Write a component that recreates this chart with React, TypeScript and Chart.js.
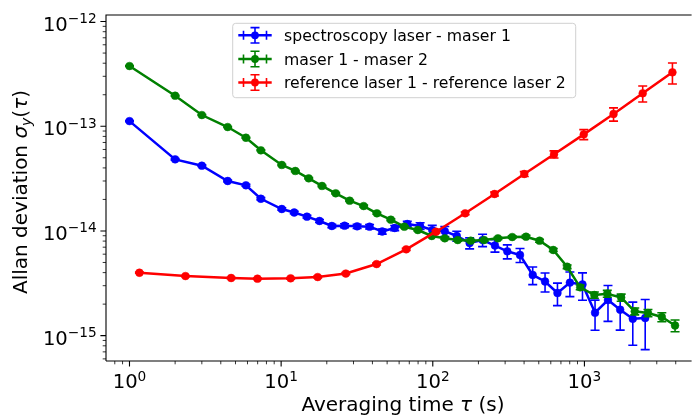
import React, { useEffect, useRef } from 'react';
import { Chart, registerables } from 'chart.js';

Chart.register(...registerables);

// ---------- data ----------
const blueTau = [1.0, 2.0, 3.0, 4.44, 5.86, 7.35, 10.1, 12.2, 14.8, 17.9, 21.6, 26.2, 31.7, 38.3, 46.4, 56.1, 67.9, 82.5, 99.2, 120, 144, 175, 213, 257, 310, 376, 456, 550, 664, 802, 971, 1175, 1430, 1721, 2084, 2516];
const blueSigma = [1.12e-13, 4.83e-14, 4.2e-14, 3.0e-14, 2.73e-14, 2.03e-14, 1.62e-14, 1.5e-14, 1.37e-14, 1.245e-14, 1.115e-14, 1.122e-14, 1.107e-14, 1.098e-14, 9.88e-15, 1.067e-14, 1.165e-14, 1.115e-14, 1.02e-14, 9.95e-15, 8.95e-15, 7.67e-15, 8.19e-15, 7.26e-15, 6.39e-15, 5.89e-15, 3.8e-15, 3.29e-15, 2.555e-15, 3.21e-15, 3.08e-15, 1.656e-15, 2.19e-15, 1.77e-15, 1.45e-15, 1.475e-15];
const blueErr = [1.5e-15, 0.8e-15, 0.8e-15, 0.6e-15, 0.6e-15, 0.5e-15, 0.4e-15, 0.4e-15, 0.4e-15, 0.4e-15, 0.4e-15, 0.5e-15, 0.5e-15, 0.55e-15, 0.55e-15, 0.6e-15, 0.7e-15, 0.81e-15, 1.11e-15, 1.085e-15, 0.98e-15, 0.92e-15, 1.1e-15, 0.98e-15, 0.98e-15, 0.9e-15, 0.73e-15, 0.68e-15, 0.62e-15, 0.85e-15, 0.9e-15, 0.53e-15, 0.82e-15, 0.64e-15, 0.64e-15, 0.74e-15];

const greenTau = [1.0, 2.0, 3.0, 4.44, 5.86, 7.35, 10.1, 12.4, 15.2, 18.6, 22.9, 28.3, 35.0, 42.8, 52.9, 64.9, 79.7, 98.4, 120, 146, 178, 218, 269, 334, 412, 506, 623, 769, 938, 1163, 1415, 1747, 2147, 2624, 3239, 3959];
const greenSigma = [3.76e-13, 1.957e-13, 1.28e-13, 9.83e-14, 7.77e-14, 5.89e-14, 4.27e-14, 3.74e-14, 3.18e-14, 2.69e-14, 2.29e-14, 1.945e-14, 1.73e-14, 1.474e-14, 1.281e-14, 1.098e-14, 1.021e-14, 8.95e-15, 8.51e-15, 8.19e-15, 8.07e-15, 8.19e-15, 8.51e-15, 8.75e-15, 8.81e-15, 8.07e-15, 6.58e-15, 4.55e-15, 2.895e-15, 2.445e-15, 2.516e-15, 2.314e-15, 1.708e-15, 1.645e-15, 1.507e-15, 1.25e-15];
const greenErr = [3.8e-15, 2.0e-15, 1.3e-15, 1.0e-15, 0.8e-15, 0.6e-15, 0.64e-15, 0.56e-15, 0.48e-15, 0.4e-15, 0.34e-15, 0.3e-15, 0.35e-15, 0.3e-15, 0.26e-15, 0.22e-15, 0.2e-15, 0.18e-15, 0.21e-15, 0.2e-15, 0.2e-15, 0.2e-15, 0.21e-15, 0.22e-15, 0.26e-15, 0.26e-15, 0.22e-15, 0.18e-15, 0.15e-15, 0.17e-15, 0.19e-15, 0.18e-15, 0.13e-15, 0.13e-15, 0.15e-15, 0.16e-15];

const redTau = [1.163, 2.34, 4.68, 6.98, 11.55, 17.42, 26.7, 42.6, 66.8, 105, 163.5, 255.4, 401.2, 630.2, 990, 1556, 2423, 3805];
const redSigma = [3.99e-15, 3.71e-15, 3.553e-15, 3.5e-15, 3.53e-15, 3.63e-15, 3.92e-15, 4.83e-15, 6.68e-15, 9.84e-15, 1.474e-14, 2.254e-14, 3.5e-14, 5.4e-14, 8.37e-14, 1.309e-13, 2.064e-13, 3.275e-13];
const redErr = [0.05e-15, 0.05e-15, 0.05e-15, 0.05e-15, 0.06e-15, 0.07e-15, 0.08e-15, 0.1e-15, 0.15e-15, 0.25e-15, 0.45e-15, 1.0e-15, 1.9e-15, 4.2e-15, 9.1e-15, 1.9e-14, 3.6e-14, 7.4e-14];

const seriesLabels = ['spectroscopy laser - maser 1', 'maser 1 - maser 2', 'reference laser 1 - reference laser 2'];
const seriesColors = ['#0000ff', '#008000', '#ff0000'];

const xTickValues = [1, 10, 100, 1000];
const xTickExponents = ['0', '1', '2', '3'];
const yTickValues = [1e-15, 1e-14, 1e-13, 1e-12];
const yTickExponents = ['\u221215', '\u221214', '\u221213', '\u221212'];
const minorMantissas = [2, 3, 4, 5, 6, 7, 8, 9];

const X_MIN = 0.705;
const X_MAX = 4938;
const Y_MIN = 5.727e-16;
const Y_MAX = 1.155e-12;

const ERRORS = [blueErr, greenErr, redErr];
const FONT = "'DejaVu Sans', sans-serif";
const CAP = 4.5;

type Seg = { text: string; size: number; italic?: boolean; dy?: number };

function segFont(s: Seg) {
  return `${s.italic ? 'italic ' : ''}${s.size}px ${FONT}`;
}
function measureSegs(ctx: CanvasRenderingContext2D, segs: Seg[]) {
  let w = 0;
  for (const s of segs) {
    ctx.font = segFont(s);
    w += ctx.measureText(s.text).width;
  }
  return w;
}
function drawSegs(ctx: CanvasRenderingContext2D, segs: Seg[], x: number, y: number) {
  let cx = x;
  ctx.textBaseline = 'alphabetic';
  ctx.textAlign = 'left';
  for (const s of segs) {
    ctx.font = segFont(s);
    ctx.fillText(s.text, cx, y + (s.dy || 0));
    cx += ctx.measureText(s.text).width;
  }
}

function drawErrHandle(ctx: CanvasRenderingContext2D, cx: number, cy: number, color: string) {
  ctx.strokeStyle = color;
  ctx.fillStyle = color;
  ctx.lineWidth = 2.5;
  ctx.beginPath();
  ctx.moveTo(cx - 16.7, cy);
  ctx.lineTo(cx + 16.7, cy);
  ctx.stroke();
  ctx.lineWidth = 1.6;
  ctx.beginPath();
  ctx.moveTo(cx - 11.5, cy - CAP);
  ctx.lineTo(cx - 11.5, cy + CAP);
  ctx.moveTo(cx + 11.5, cy - CAP);
  ctx.lineTo(cx + 11.5, cy + CAP);
  ctx.moveTo(cx, cy - 7.7);
  ctx.lineTo(cx, cy + 7.7);
  ctx.moveTo(cx - CAP, cy - 7.7);
  ctx.lineTo(cx + CAP, cy - 7.7);
  ctx.moveTo(cx - CAP, cy + 7.7);
  ctx.lineTo(cx + CAP, cy + 7.7);
  ctx.stroke();
  ctx.beginPath();
  ctx.arc(cx, cy, 3.9, 0, Math.PI * 2);
  ctx.fill();
}

const decorPlugin = {
  id: 'decor',
  beforeDatasetDraw(chart: any, args: any) {
    const errs = ERRORS[args.index];
    if (!errs) return;
    const ctx: CanvasRenderingContext2D = chart.ctx;
    const xs = chart.scales.x;
    const ys = chart.scales.y;
    const ds = chart.data.datasets[args.index];
    const ca = chart.chartArea;
    ctx.save();
    ctx.beginPath();
    ctx.rect(ca.left, ca.top, ca.right - ca.left, ca.bottom - ca.top);
    ctx.clip();
    ctx.strokeStyle = ds.borderColor;
    ctx.lineWidth = 1.6;
    ds.data.forEach((p: any, i: number) => {
      const e = errs[i];
      const px = xs.getPixelForValue(p.x);
      const top = ys.getPixelForValue(p.y + e);
      const bot = ys.getPixelForValue(Math.max(p.y - e, 1e-20));
      ctx.beginPath();
      ctx.moveTo(px, top);
      ctx.lineTo(px, bot);
      ctx.moveTo(px - CAP, top);
      ctx.lineTo(px + CAP, top);
      ctx.moveTo(px - CAP, bot);
      ctx.lineTo(px + CAP, bot);
      ctx.stroke();
    });
    ctx.restore();
  },
  afterDraw(chart: any) {
    const ctx: CanvasRenderingContext2D = chart.ctx;
    const xs = chart.scales.x;
    const ys = chart.scales.y;
    const ca = chart.chartArea;
    ctx.save();
    ctx.strokeStyle = '#000';
    ctx.fillStyle = '#000';

    ctx.lineWidth = 1.1;
    ctx.beginPath();
    ctx.moveTo(ca.left, ca.bottom);
    ctx.lineTo(ca.left, ca.top);
    ctx.lineTo(ca.right + 2, ca.top);
    ctx.moveTo(ca.left, ca.bottom);
    ctx.lineTo(ca.right + 2, ca.bottom);
    ctx.stroke();

    ctx.lineWidth = 0.8;
    ctx.beginPath();
    for (let e = -1; e <= 3; e++) {
      for (const m of minorMantissas) {
        const v = m * Math.pow(10, e);
        if (v < X_MIN || v > X_MAX) continue;
        const px = xs.getPixelForValue(v);
        ctx.moveTo(px, ca.bottom);
        ctx.lineTo(px, ca.bottom + 3.3);
      }
    }
    for (let e = -16; e <= -12; e++) {
      for (const m of minorMantissas) {
        const v = m * Math.pow(10, e);
        if (v < Y_MIN || v > Y_MAX) continue;
        const py = ys.getPixelForValue(v);
        ctx.moveTo(ca.left, py);
        ctx.lineTo(ca.left - 3.3, py);
      }
    }
    ctx.stroke();

    ctx.lineWidth = 1.1;
    ctx.beginPath();
    xTickValues.forEach((v) => {
      const px = xs.getPixelForValue(v);
      ctx.moveTo(px, ca.bottom);
      ctx.lineTo(px, ca.bottom + 5.6);
    });
    yTickValues.forEach((v) => {
      const py = ys.getPixelForValue(v);
      ctx.moveTo(ca.left, py);
      ctx.lineTo(ca.left - 5.6, py);
    });
    ctx.stroke();

    xTickValues.forEach((v, i) => {
      const px = xs.getPixelForValue(v);
      const segs: Seg[] = [
        { text: '10', size: 19.6 },
        { text: xTickExponents[i], size: 13.7, dy: -7 },
      ];
      const w = measureSegs(ctx, segs);
      drawSegs(ctx, segs, px - w / 2, ca.bottom + 27.3);
    });
    yTickValues.forEach((v, i) => {
      const py = ys.getPixelForValue(v);
      const segs: Seg[] = [
        { text: '10', size: 19.6 },
        { text: yTickExponents[i], size: 13.7, dy: -7.5 },
      ];
      const w = measureSegs(ctx, segs);
      drawSegs(ctx, segs, ca.left - 9.3 - w, py + 9);
    });

    const xt: Seg[] = [
      { text: 'Averaging time ', size: 20 },
      { text: '\u03c4', size: 20, italic: true },
      { text: ' (s)', size: 20 },
    ];
    const xw = measureSegs(ctx, xt);
    drawSegs(ctx, xt, 403 - xw / 2, 411);

    const yt: Seg[] = [
      { text: 'Allan deviation ', size: 20 },
      { text: '\u03c3', size: 20, italic: true },
      { text: 'y', size: 14, italic: true, dy: 4.5 },
      { text: '(', size: 20 },
      { text: '\u03c4', size: 20, italic: true },
      { text: ')', size: 20 },
    ];
    const yw = measureSegs(ctx, yt);
    ctx.save();
    ctx.translate(26.5, 192);
    ctx.rotate(-Math.PI / 2);
    drawSegs(ctx, yt, -yw / 2, 0);
    ctx.restore();

    const lx = 232.7, ly = 23.3, lw = 343, lh = 74.4;
    ctx.beginPath();
    const r = 3;
    ctx.moveTo(lx + r, ly);
    ctx.lineTo(lx + lw - r, ly);
    ctx.quadraticCurveTo(lx + lw, ly, lx + lw, ly + r);
    ctx.lineTo(lx + lw, ly + lh - r);
    ctx.quadraticCurveTo(lx + lw, ly + lh, lx + lw - r, ly + lh);
    ctx.lineTo(lx + r, ly + lh);
    ctx.quadraticCurveTo(lx, ly + lh, lx, ly + lh - r);
    ctx.lineTo(lx, ly + r);
    ctx.quadraticCurveTo(lx, ly, lx + r, ly);
    ctx.closePath();
    ctx.fillStyle = 'rgba(255,255,255,0.8)';
    ctx.fill();
    ctx.strokeStyle = '#d0d0d0';
    ctx.lineWidth = 1;
    ctx.stroke();

    const rows = [35.3, 59, 82.5];
    seriesLabels.forEach((label, i) => {
      drawErrHandle(ctx, 255, rows[i], seriesColors[i]);
      ctx.fillStyle = '#000';
      ctx.font = `15.7px ${FONT}`;
      ctx.textAlign = 'left';
      ctx.textBaseline = 'alphabetic';
      ctx.fillText(label, 284, rows[i] + 5.8);
    });

    ctx.restore();
  },
};

function makeData(tau: number[], sigma: number[]) {
  return tau.map((t, i) => ({ x: t, y: sigma[i] }));
}

export default function App() {
  const ref = useRef<HTMLCanvasElement | null>(null);
  useEffect(() => {
    if (!ref.current) return;
    const ds = (i: number, tau: number[], sigma: number[], order: number) => ({
      label: seriesLabels[i],
      data: makeData(tau, sigma),
      borderColor: seriesColors[i],
      backgroundColor: seriesColors[i],
      pointBackgroundColor: seriesColors[i],
      pointBorderColor: seriesColors[i],
      borderWidth: 2.5,
      pointRadius: 3.9,
      pointBorderWidth: 0.5,
      pointHoverRadius: 3.9,
      tension: 0,
      fill: false,
      order,
    });
    const chart = new Chart(ref.current, {
      type: 'line',
      data: {
        datasets: [
          ds(0, blueTau, blueSigma, 3),
          ds(1, greenTau, greenSigma, 2),
          ds(2, redTau, redSigma, 1),
        ] as any,
      },
      options: {
        animation: false,
        responsive: false,
        maintainAspectRatio: false,
        events: [],
        layout: { padding: { left: 106, right: 0, top: 15, bottom: 56 } },
        scales: {
          x: { type: 'logarithmic', min: X_MIN, max: X_MAX, display: false },
          y: { type: 'logarithmic', min: Y_MIN, max: Y_MAX, display: false },
        },
        plugins: {
          legend: { display: false },
          tooltip: { enabled: false },
          title: { display: false },
        },
      } as any,
      plugins: [decorPlugin as any],
    });
    return () => chart.destroy();
  }, []);
  return (
    <div style={{ position: 'absolute', left: 0, top: 0, width: 694, height: 417, background: '#fff' }}>
      <canvas ref={ref} width={694} height={417} style={{ display: 'block', width: 694, height: 417 }} />
    </div>
  );
}
